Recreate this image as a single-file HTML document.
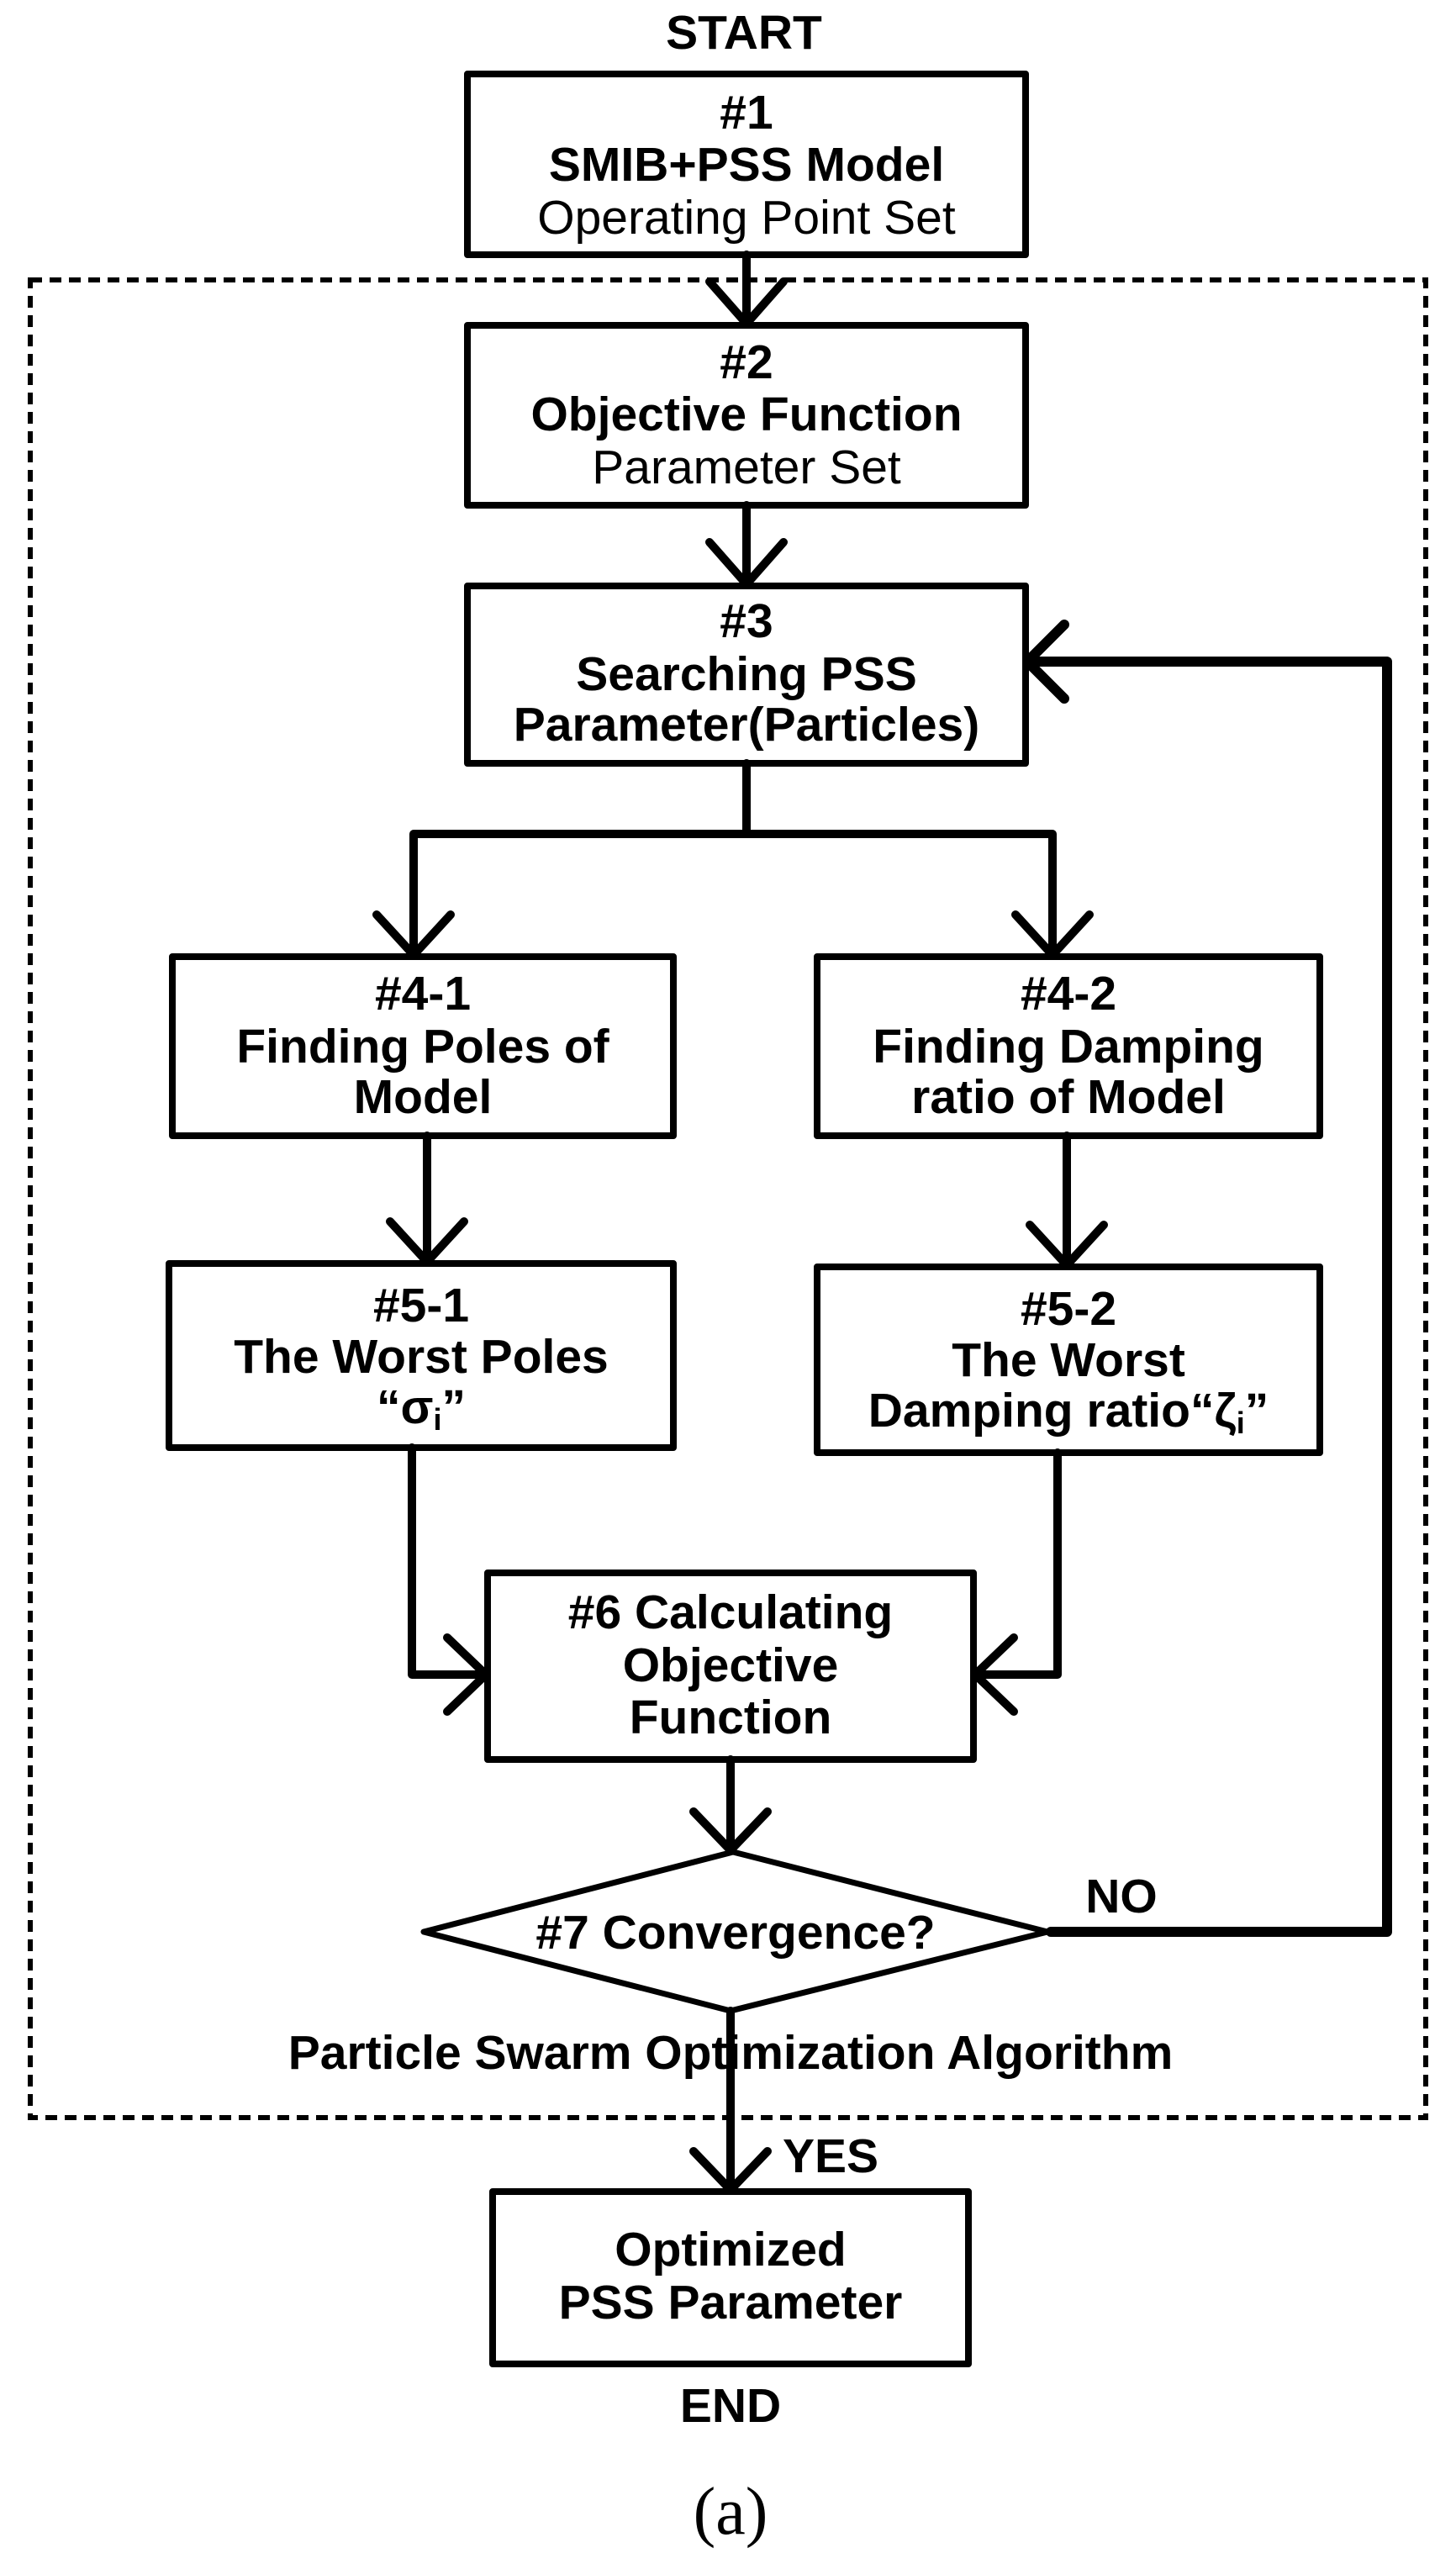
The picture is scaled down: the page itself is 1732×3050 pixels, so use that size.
<!DOCTYPE html>
<html><head><meta charset="utf-8"><style>
html,body{margin:0;padding:0;background:#fff}
svg{display:block}
text{font-family:"Liberation Sans",sans-serif;font-size:57px;font-weight:bold;text-anchor:middle;fill:#000}
.n{font-weight:normal}
</style></head><body>
<svg width="1732" height="3050" viewBox="0 0 1732 3050" xmlns="http://www.w3.org/2000/svg">
<rect x="0" y="0" width="1732" height="3050" fill="#fff"/>
<rect x="36" y="333" width="1660" height="2186" fill="none" stroke="#000" stroke-width="6" stroke-dasharray="14,9"/>
<g fill="none" stroke="#000" stroke-width="10" stroke-linecap="round" stroke-linejoin="round">
<rect x="556" y="88" width="664" height="215" stroke-width="8"/>
<rect x="556" y="387" width="664" height="214" stroke-width="8"/>
<rect x="556" y="697" width="664" height="211" stroke-width="8"/>
<rect x="205" y="1138" width="596" height="213" stroke-width="8"/>
<rect x="972" y="1138" width="598" height="213" stroke-width="8"/>
<rect x="201" y="1503" width="600" height="219" stroke-width="8"/>
<rect x="972" y="1507" width="598" height="221" stroke-width="8"/>
<rect x="580" y="1871" width="578" height="222" stroke-width="8"/>
<polygon points="504,2298 872,2203 1246,2298 869,2392" stroke-width="7"/>
<rect x="586" y="2607" width="566" height="205" stroke-width="8"/>
<path d="M888 303 V385 M844 335 L888 385 L932 335"/>
<path d="M888 601 V695 M844 645 L888 695 L932 645"/>
<path d="M888 908 V992 M492 992 H1252 M492 992 V1136 M1252 992 V1136"/>
<path d="M448 1088 L492 1136 L536 1088 M1208 1088 L1252 1136 L1296 1088"/>
<path d="M508 1351 V1501 M464 1453 L508 1501 L552 1453"/>
<path d="M1269 1351 V1505 M1225 1457 L1269 1505 L1313 1457"/>
<path d="M490 1722 V1992 H578 M532 1948 L578 1992 L532 2036"/>
<path d="M1258 1728 V1992 H1160 M1206 1948 L1160 1992 L1206 2036"/>
<path d="M869 2093 V2201 M825 2155 L869 2201 L913 2155"/>
<path d="M1250 2298 H1650 V787 H1222 M1266 743 L1222 787 L1266 831" stroke-width="12"/>
<path d="M869 2392 V2605 M825 2559 L869 2605 L913 2559"/>
</g>
<text x="885" y="58">START</text>
<text x="888" y="153">#1</text>
<text x="888" y="215">SMIB+PSS Model</text>
<text x="888" y="278" class="n">Operating Point Set</text>
<text x="888" y="450">#2</text>
<text x="888" y="512">Objective Function</text>
<text x="888" y="575" class="n">Parameter Set</text>
<text x="888" y="758">#3</text>
<text x="888" y="821">Searching PSS</text>
<text x="888" y="881">Parameter(Particles)</text>
<text x="503" y="1201">#4-1</text>
<text x="503" y="1264">Finding Poles of</text>
<text x="503" y="1324">Model</text>
<text x="1271" y="1201">#4-2</text>
<text x="1271" y="1264">Finding Damping</text>
<text x="1271" y="1324">ratio of Model</text>
<text x="501" y="1572">#5-1</text>
<text x="501" y="1633">The Worst Poles</text>
<text x="501" y="1693">“σ<tspan font-size="36" dy="8">i</tspan><tspan dy="-8">”</tspan></text>
<text x="1271" y="1576">#5-2</text>
<text x="1271" y="1637">The Worst</text>
<text x="1271" y="1697">Damping ratio“ζ<tspan font-size="36" dy="8">i</tspan><tspan dy="-8">”</tspan></text>
<text x="869" y="1937">#6 Calculating</text>
<text x="869" y="2000">Objective</text>
<text x="869" y="2062">Function</text>
<text x="875" y="2318">#7 Convergence?</text>
<text x="1334" y="2275">NO</text>
<text x="869" y="2461">Particle Swarm Optimization Algorithm</text>
<text x="988" y="2584">YES</text>
<text x="869" y="2695">Optimized</text>
<text x="869" y="2758">PSS Parameter</text>
<text x="869" y="2881">END</text>
<text x="869" y="3014" style="font-family:'Liberation Serif',serif;font-weight:normal;font-size:80px">(a)</text>
</svg>
</body></html>
